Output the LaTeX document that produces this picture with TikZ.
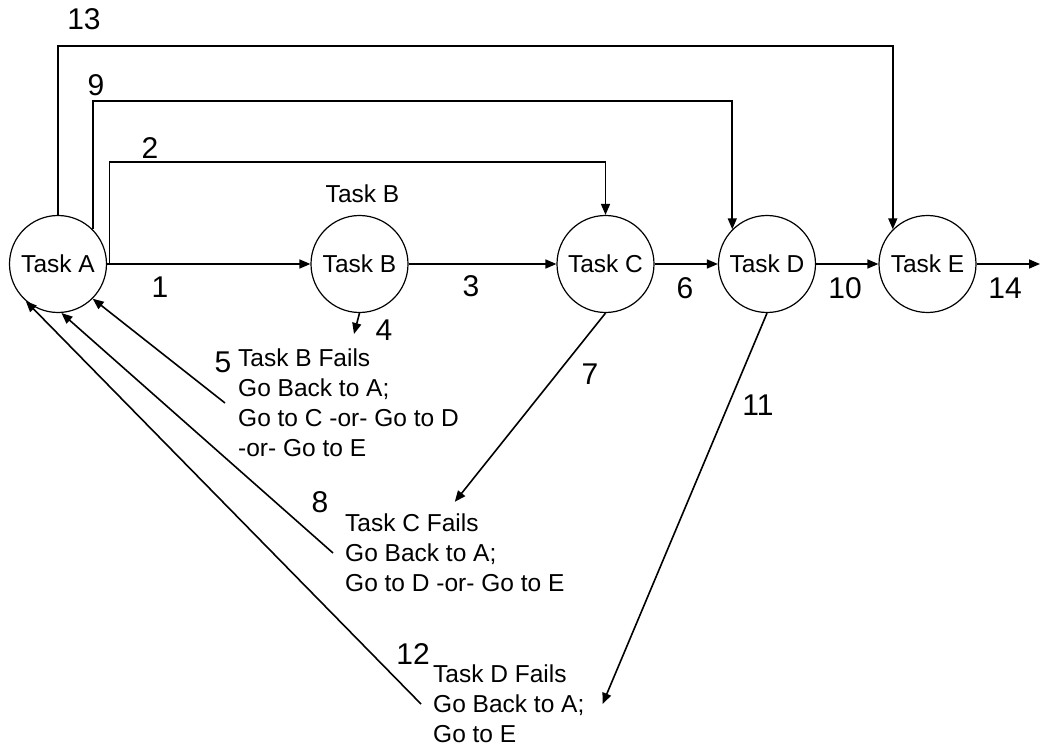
\documentclass[tikz,border=0pt]{standalone}
\usepackage{fontspec}
\setmainfont{Liberation Sans}
\usepackage{tikz}
\usetikzlibrary{arrows.meta,positioning}
\definecolor{tfInk}{HTML}{000000}
\tikzset{
  tf diagram/.style={font=\fontsize{24.5}{30}\selectfont, text=tfInk,
    line join=miter},
  tf task/.style={circle, draw=tfInk, fill=white, line width=1.2pt,
    minimum size=97pt, inner sep=0pt},
  tf arrow/.style={-{Triangle[length=11pt,width=9pt]}, draw=tfInk, line width=1.6pt},
  tf num/.style={font=\fontsize{30}{36}\selectfont, inner sep=0pt},
  tf note/.style={align=left, inner sep=0pt, anchor=west}
}

\begin{document}
\begin{tikzpicture}[tf diagram, x=1pt, y=-1pt]
\useasboundingbox (0,0) rectangle (1046,751);
% tasks
\node[tf task] (A) at (58,264) {Task A};
\node[tf task] (B) at (359.5,264) {Task B};
\node[tf task] (C) at (605.5,264) {Task C};
\node[tf task] (D) at (767,264) {Task D};
\node[tf task] (E) at (927.5,264) {Task E};
\node[above=12pt of B, inner sep=0pt, xshift=3pt] (Btitle) {Task B};
% failure notes
\node[tf note] (failB) at (238,403) {Task B Fails\\Go Back to A;\\Go to C -or- Go to D\\-or- Go to E};
\node[tf note] (failC) at (345,553) {Task C Fails\\Go Back to A;\\Go to D -or- Go to E};
\node[tf note] (failD) at (433,704) {Task D Fails\\Go Back to A;\\Go to E};
% rails and free ends
\coordinate (rail13) at (0,46);
\coordinate (rail9) at (0,101);
\coordinate (rail2) at (0,162);
\coordinate (split2) at ([xshift=2.5pt]A.east);
\coordinate (stub4) at (354,334);
\coordinate (out) at (1040,264);
% forward path
\draw[tf arrow] (A) -- (B);
\draw[tf arrow] (B) -- (C);
\draw[tf arrow] (C) -- (D);
\draw[tf arrow] (D) -- (E);
\draw[tf arrow] (E) -- (out);
% skips
\draw[tf arrow] (split2) -- (split2 |- rail2) -| (C.north);
\draw[tf arrow] (A.45) -- (A.45 |- rail9) -| (D.135);
\draw[tf arrow] (A.north) -- (A.north |- rail13) -| (E.135);
% failures
\draw[tf arrow] (B.south) -- (stub4);
\draw[tf arrow] (C.south) -- ([yshift=12pt]failC.north);
\draw[tf arrow] (D.south) -- ([xshift=18pt]failD.east);
\draw[tf arrow] ([xshift=-13pt]failB.west) -- (A.-45);
\draw[tf arrow] ([xshift=-12pt]failC.west) -- (A.-86);
\draw[tf arrow] ([xshift=-12pt]failD.west) -- (A.-131);
% numbers
\node[tf num] (n1) at (160,287) {1};
\node[tf num] (n2) at (150,148) {2};
\node[tf num] (n3) at (471,286) {3};
\node[tf num] (n4) at (384,330) {4};
\node[tf num] (n5) at (223,362) {5};
\node[tf num] (n6) at (685,288) {6};
\node[tf num] (n7) at (590,374) {7};
\node[tf num] (n8) at (320,502) {8};
\node[tf num] (n9) at (96,85) {9};
\node[tf num] (n10) at (845,288) {10};
\node[tf num] (n11) at (758,405) {11};
\node[tf num] (n12) at (413,654) {12};
\node[tf num] (n13) at (84,19) {13};
\node[tf num] (n14) at (1005,288) {14};
\end{tikzpicture}
\end{document}
